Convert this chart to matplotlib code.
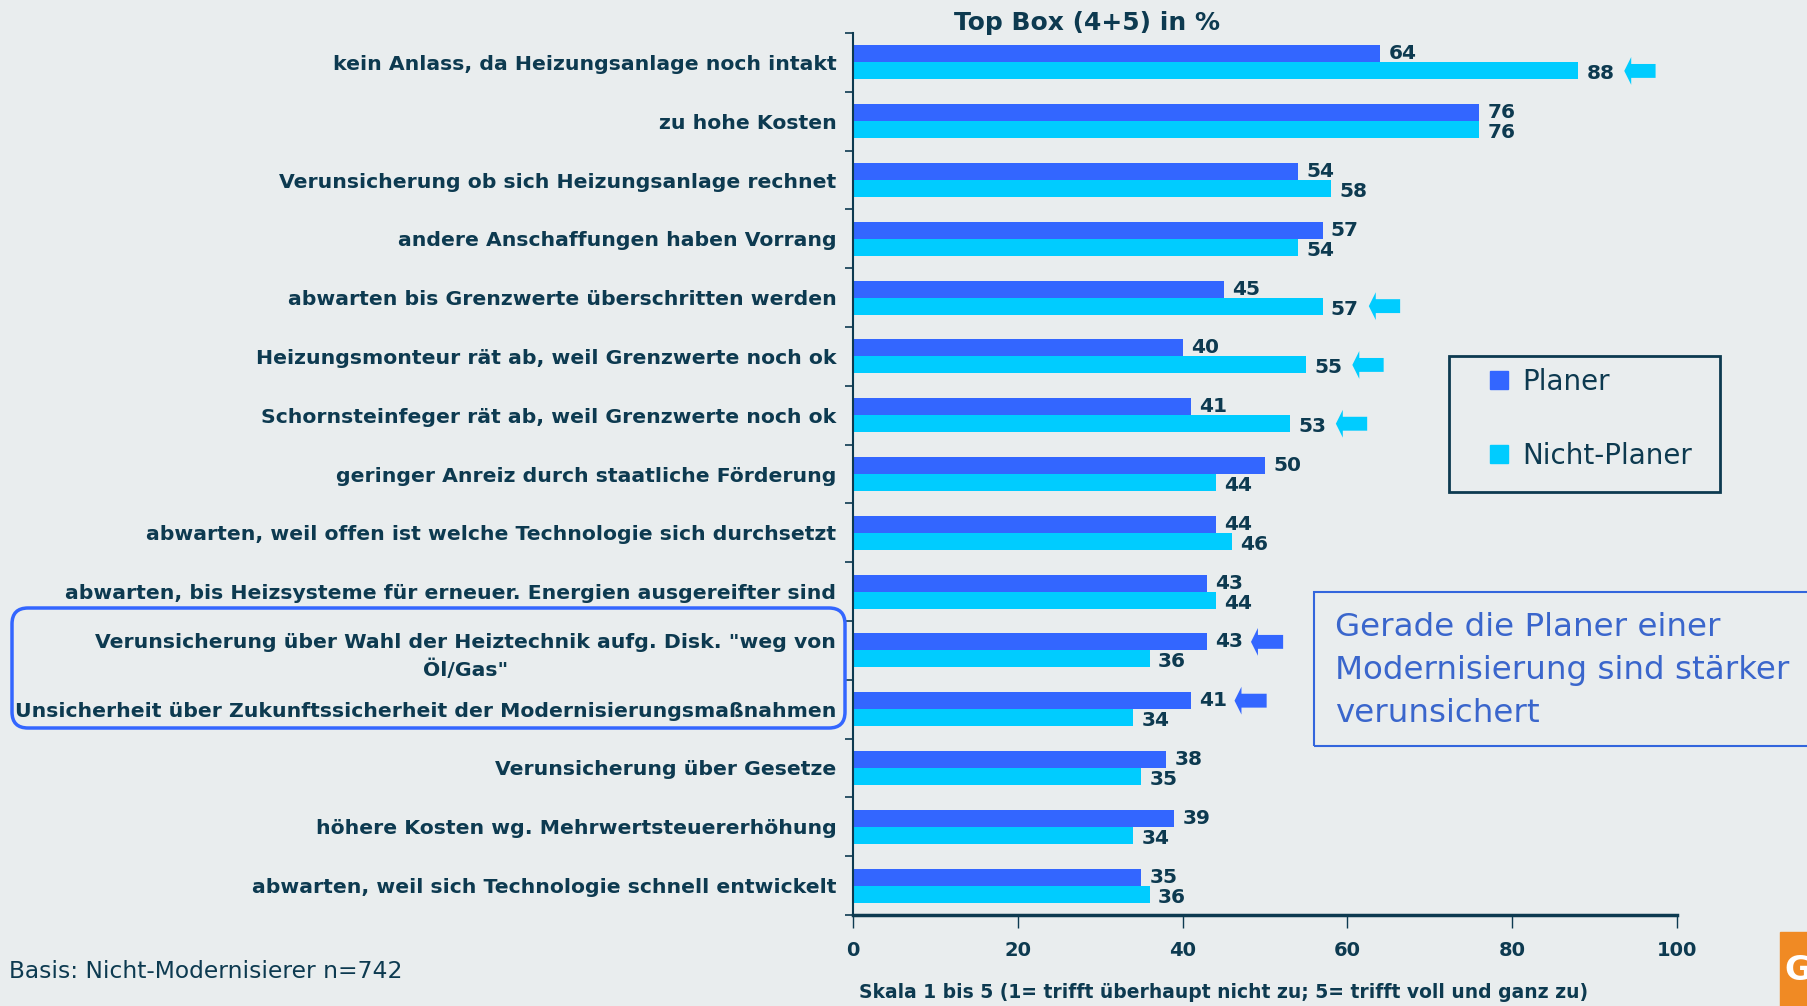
import numpy as np
import matplotlib
matplotlib.use("Agg")
import matplotlib.pyplot as plt
from matplotlib.patches import Rectangle, FancyBboxPatch
from matplotlib.lines import Line2D

# data (Top Box 4+5 in %)
reasons = [
    "kein Anlass, da Heizungsanlage noch intakt",
    "zu hohe Kosten",
    "Verunsicherung ob sich Heizungsanlage rechnet",
    "andere Anschaffungen haben Vorrang",
    "abwarten bis Grenzwerte überschritten werden",
    "Heizungsmonteur rät ab, weil Grenzwerte noch ok",
    "Schornsteinfeger rät ab, weil Grenzwerte noch ok",
    "geringer Anreiz durch staatliche Förderung",
    "abwarten, weil offen ist welche Technologie sich durchsetzt",
    "abwarten, bis Heizsysteme für erneuer. Energien ausgereifter sind",
    "Verunsicherung über Wahl der Heiztechnik aufg. Disk. \"weg von\nÖl/Gas\"",
    "Unsicherheit über Zukunftssicherheit der Modernisierungsmaßnahmen",
    "Verunsicherung über Gesetze",
    "höhere Kosten wg. Mehrwertsteuererhöhung",
    "abwarten, weil sich Technologie schnell entwickelt",
]
planer = [64, 76, 54, 57, 45, 40, 41, 50, 44, 43, 43, 41, 38, 39, 35]
nicht_planer = [88, 76, 58, 54, 57, 55, 53, 44, 46, 44, 36, 34, 35, 34, 36]

# rows that carry an arrow, and which series it points at
arrows_nicht = [0, 4, 5, 6]
arrows_planer = [10, 11]

x_ticks = [0, 20, 40, 60, 80, 100]

BG = "#E9EDEE"
NAVY = "#0D3A50"
BLUE = "#3366FF"
CYAN = "#00CCFF"

W, H = 1808, 1006
fig = plt.figure(figsize=(W / 100, H / 100), dpi=100, facecolor=BG)
ax = fig.add_axes([853 / W, 1 - 915 / H, (1677 - 853) / W, (915 - 33) / H])
ax.set_facecolor(BG)

y = np.arange(len(reasons))
bh = 0.29
ax.barh(y - bh / 2, planer, height=bh, color=BLUE, label="Planer")
ax.barh(y + bh / 2, nicht_planer, height=bh, color=CYAN, label="Nicht-Planer")

for i in range(len(reasons)):
    ax.text(planer[i] + 1.0, y[i] - bh / 2, str(planer[i]), va="center", ha="left",
            fontsize=14.5, fontweight="bold", color=NAVY)
    ax.text(nicht_planer[i] + 1.0, y[i] + bh / 2 + 0.05, str(nicht_planer[i]), va="center",
            ha="left", fontsize=14.5, fontweight="bold", color=NAVY)

arrow_style = "simple,head_length=0.5,head_width=2.0,tail_width=1.0"
for i in arrows_nicht:
    v = nicht_planer[i]
    ax.annotate("", xy=(v + 5.6, y[i] + bh / 2), xytext=(v + 9.4, y[i] + bh / 2),
                arrowprops=dict(arrowstyle=arrow_style, color=CYAN, mutation_scale=10,
                                shrinkA=0, shrinkB=0, lw=0))
for i in arrows_planer:
    v = planer[i]
    ax.annotate("", xy=(v + 5.3, y[i] - bh / 2), xytext=(v + 9.2, y[i] - bh / 2),
                arrowprops=dict(arrowstyle=arrow_style, color=BLUE, mutation_scale=10,
                                shrinkA=0, shrinkB=0, lw=0))

ax.set_xlim(0, 100)
ax.set_ylim(len(reasons) - 0.5, -0.5)
ax.set_xticks(x_ticks)
ax.set_xticklabels([str(t) for t in x_ticks], fontsize=14, fontweight="bold", color=NAVY)
ax.set_yticks(y)
ax.set_yticklabels(reasons, fontsize=14.7, fontweight="bold", color=NAVY)
for lbl in ax.get_yticklabels():
    lbl.set_multialignment("center")
    lbl.set_linespacing(1.5)
ax.set_yticks(np.arange(-0.5, len(reasons), 1), minor=True)
ax.tick_params(axis="y", which="major", length=0, pad=12)
ax.tick_params(axis="y", which="minor", length=6, width=1.2, color=NAVY, direction="out")
ax.tick_params(axis="x", length=9, width=1, color=NAVY, pad=10)

for s in ["top", "right"]:
    ax.spines[s].set_visible(False)
ax.spines["left"].set_color(NAVY)
ax.spines["left"].set_linewidth(1.5)
ax.spines["bottom"].set_color(NAVY)
ax.spines["bottom"].set_linewidth(2.5)

fig.text(1087 / W, 1 - 23 / H, "Top Box (4+5) in %", ha="center", va="center",
         fontsize=18, fontweight="bold", color=NAVY)
fig.text(859 / W, 1 - 992 / H,
         "Skala 1 bis 5 (1= trifft überhaupt nicht zu; 5= trifft voll und ganz zu)",
         ha="left", va="center", fontsize=13.5, fontweight="bold", color=NAVY)
fig.text(9 / W, 1 - 972 / H, "Basis: Nicht-Modernisierer n=742", ha="left", va="center",
         fontsize=16.8, color=NAVY)

# legend with a hand-drawn square frame
fig.patches.append(Rectangle((1449 / W, 1 - 492 / H), (1720 - 1449) / W, (492 - 356) / H,
                             transform=fig.transFigure, fill=False, edgecolor=NAVY, lw=2))
handles = [Line2D([], [], marker="s", ls="", color=BLUE, markersize=13),
           Line2D([], [], marker="s", ls="", color=CYAN, markersize=13)]
fig.legend(handles, ["Planer", "Nicht-Planer"], loc="upper left",
           bbox_to_anchor=(1485 / W, 1 - 368 / H), frameon=False, fontsize=20,
           labelcolor=NAVY, handlelength=1.0, handletextpad=0.35, labelspacing=1.64,
           borderpad=0, borderaxespad=0)

# comment box on the right
fig.patches.append(Rectangle((1314 / W, 1 - 746 / H), 0.3, (746 - 592) / H,
                             transform=fig.transFigure, fill=False, edgecolor="#3366DD", lw=1.5))
fig.text(1335 / W, 1 - 671 / H,
         "Gerade die Planer einer\nModernisierung sind stärker\nverunsichert",
         ha="left", va="center", fontsize=23.4, color="#3A66CC", linespacing=1.5)

# highlight round the two rows
fig.patches.append(FancyBboxPatch((12 / 100, (H - 728) / 100), (845 - 12) / 100, (728 - 608) / 100,
                                  boxstyle="round,pad=0,rounding_size=0.16",
                                  transform=fig.dpi_scale_trans, fill=False,
                                  edgecolor=BLUE, lw=2.5))

# cut-off logo corner
fig.patches.append(Rectangle((1780 / W, 0), 0.05, (1006 - 932) / H,
                             transform=fig.transFigure, color="#F08A24"))
fig.text(1784 / W, 1 - 970 / H, "G", ha="left", va="center", fontsize=24,
         fontweight="bold", color="white")

fig.savefig("out.png", dpi=100, facecolor=BG)
